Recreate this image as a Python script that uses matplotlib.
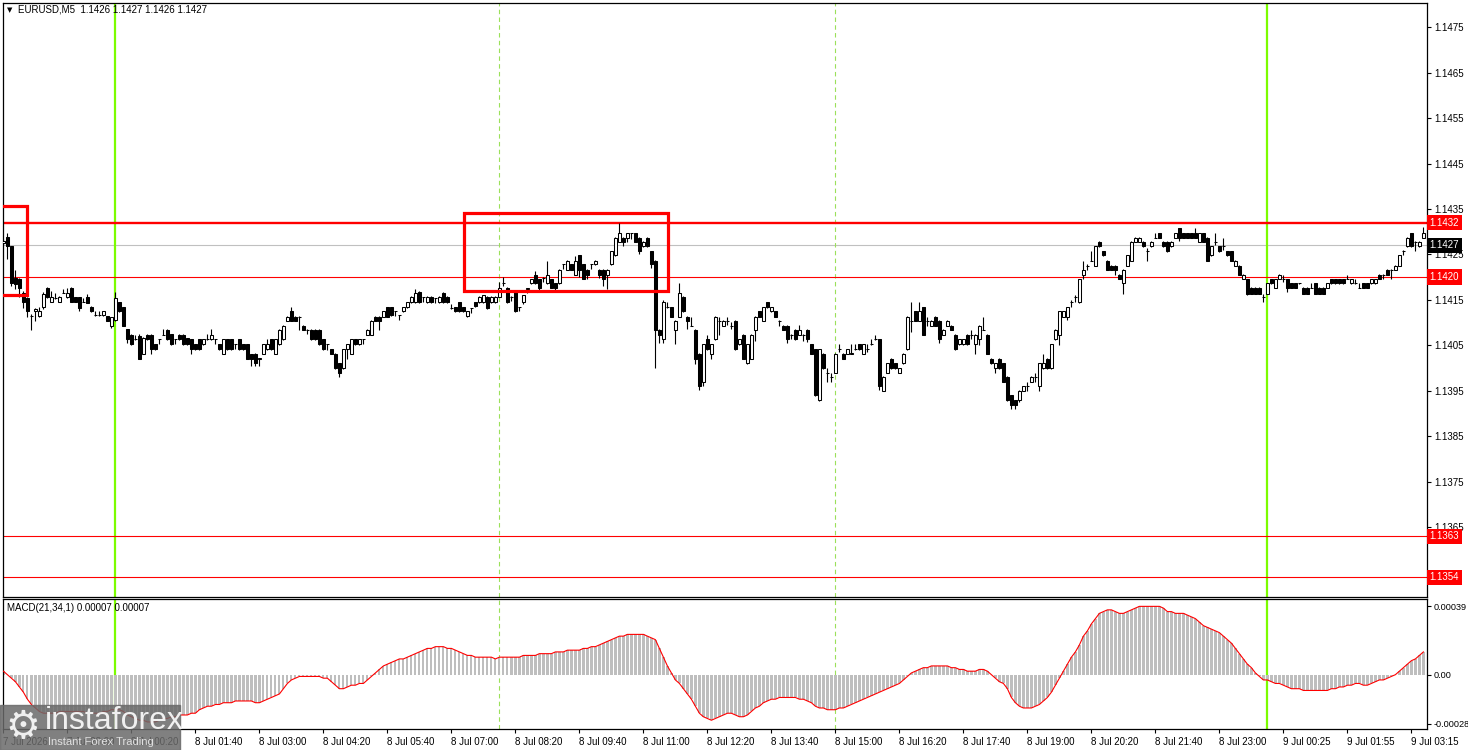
import numpy as np
import matplotlib.pyplot as plt
from matplotlib.patches import Rectangle
import matplotlib.transforms as mtransforms

# prices are written in pips above 1.1400
base = 1.1400
pip = 0.0001

open_pips = [
    27.5, 28.8, 26.8, 19.8, 19.6, 16.6, 15.5, 11.5, 12.5, 11.5, 13.4, 17.7, 14.6, 15.4, 14.6, 16.6,
    15.6, 17.7, 15.6, 15.6, 14.6, 15.7, 13.4, 11.6, 11.6, 11.6, 11.4, 9.3, 10.5, 14.5, 13.4, 8.6,
    7.3, 6.3, 7.1, 3.2, 7.3, 7.3, 5.2, 6.3, 7.3, 8.4, 7.5, 6.3, 7.3, 7.3, 6.6, 6.3,
    5.2, 6.3, 5.2, 6.3, 6.3, 6.3, 5.2, 3.2, 6.3, 6.3, 5.2, 6.3, 5.2, 5.2, 3.1, 3.2,
    2.1, 3.2, 4.1, 6.3, 3.2, 5.2, 6.3, 10.4, 12.5, 11.3, 11.3, 9.3, 8.4, 8.4, 8.4, 8.4,
    6.3, 5.2, 4.1, 3.2, 1.1, 0.0, 4.1, 3.2, 6.3, 5.2, 6.3, 7.3, 7.3, 11.3, 11.3, 11.3,
    13.4, 13.4, 12.5, 11.6, 12.5, 13.4, 14.5, 14.5, 16.8, 15.6, 14.5, 15.7, 15.4, 14.5, 16.6, 15.7,
    13.2, 13.4, 14.5, 13.4, 11.4, 13.2, 14.5, 14.5, 14.5, 15.7, 14.5, 14.5, 15.7, 18.7, 17.7, 15.7,
    16.8, 13.4, 14.5, 17.5, 18.7, 20.5, 19.6, 19.8, 18.7, 19.6, 18.7, 18.7, 22.8, 21.6, 22.8, 20.5,
    24.8, 22.8, 21.6, 22.8, 22.8, 21.6, 21.6, 20.5, 22.8, 24.8, 27.8, 28.7, 28.7, 29.7, 29.7, 28.7,
    26.8, 28.7, 25.7, 23.6, 8.4, 6.3, 13.4, 13.4, 8.4, 11.3, 15.7, 11.3, 9.3, 8.4, 3.2, -3.0,
    6.3, 3.2, 6.3, 10.4, 9.3, 10.4, 9.3, 10.4, 5.2, 7.3, 1.1, 2.1, 8.4, 12.5, 10.4, 14.5,
    12.5, 12.5, 10.4, 9.3, 9.3, 7.3, 8.4, 7.3, 7.3, 8.4, 5.2, 4.1, -7.1, 3.2, -1.0, -1.9,
    -1.0, 4.1, 3.2, 3.2, 3.2, 4.1, 5.2, 3.2, 4.1, 5.2, 6.3, 6.3, -5.0, -1.0, 2.1, 1.1,
    -1.0, 1.1, 4.1, 10.4, 12.5, 10.4, 13.4, 10.4, 9.3, 11.3, 10.4, 7.3, 9.3, 9.3, 7.3, 5.2,
    5.2, 7.3, 7.3, 5.2, 6.3, 8.4, 7.3, 2.1, 0.0, 2.1, 1.1, -1.9, -6.0, -7.1, -7.1, -5.0,
    -4.0, -3.0, -1.9, -4.0, 0.0, 2.1, 0.0, 6.3, 7.3, 11.3, 11.3, 14.5, 15.7, 14.5, 20.5, 22.5,
    23.6, 22.5, 27.8, 25.7, 23.6, 22.5, 22.5, 20.5, 18.7, 22.5, 23.6, 27.8, 27.8, 27.8, 25.7, 26.8,
    28.7, 29.7, 27.8, 27.8, 26.8, 28.7, 30.8, 29.7, 29.7, 29.7, 29.7, 27.8, 29.7, 28.7, 24.8, 27.8,
    26.8, 26.8, 25.7, 25.7, 22.5, 22.5, 19.6, 19.6, 17.7, 17.7, 17.7, 15.7, 16.4, 19.6, 17.7, 19.6,
    19.6, 19.6, 18.7, 18.7, 18.7, 17.7, 17.7, 17.7, 18.7, 17.7, 17.7, 17.7, 19.6, 19.6, 19.6, 19.6,
    19.6, 18.7, 18.7, 17.7, 18.7, 18.7, 18.7, 18.7, 20.5, 20.5, 21.6, 21.6, 21.6, 22.5, 25.7, 26.8,
    29.7, 27.8, 26.8, 28.7,
]

high_pips = [
    28.5, 29.8, 26.8, 21.6, 19.8, 17.0, 15.7, 11.8, 13.2, 13.4, 16.8, 17.8, 17.0, 16.5, 15.8, 17.5,
    17.6, 17.8, 15.7, 15.7, 15.5, 16.2, 13.6, 12.5, 12.5, 12.6, 11.5, 11.3, 16.8, 14.6, 13.5, 8.7,
    7.4, 7.3, 7.6, 6.8, 7.6, 7.4, 5.4, 6.4, 8.5, 8.5, 7.6, 6.4, 7.4, 7.4, 6.7, 6.4,
    5.3, 6.4, 6.4, 7.5, 8.7, 6.4, 5.3, 6.4, 6.4, 6.4, 5.3, 6.4, 5.3, 5.3, 3.2, 3.3,
    2.2, 5.3, 6.4, 6.4, 6.4, 8.5, 9.4, 11.4, 13.4, 11.4, 11.4, 9.4, 8.5, 8.5, 8.5, 8.5,
    6.4, 5.3, 4.2, 3.3, 1.2, 4.2, 5.3, 6.4, 6.4, 6.4, 6.4, 8.5, 10.5, 11.4, 11.4, 12.6,
    13.5, 13.5, 12.6, 11.7, 13.5, 14.6, 15.8, 17.5, 16.9, 15.7, 15.8, 15.8, 15.5, 15.8, 16.7, 15.8,
    14.0, 13.5, 14.6, 13.5, 12.6, 13.3, 14.6, 15.8, 16.1, 15.8, 15.8, 15.8, 19.0, 20.0, 17.8, 15.8,
    16.9, 13.5, 16.1, 17.6, 19.7, 21.3, 19.7, 20.0, 23.6, 19.7, 18.8, 21.7, 23.0, 23.7, 22.9, 24.6,
    24.9, 22.9, 21.7, 22.9, 23.7, 21.7, 21.7, 21.7, 25.8, 28.8, 32.0, 28.8, 29.8, 29.8, 29.8, 28.8,
    27.9, 28.8, 25.8, 23.7, 8.5, 15.0, 14.5, 13.5, 10.5, 18.7, 15.8, 11.4, 11.2, 8.5, 3.3, 5.3,
    7.3, 5.3, 11.4, 11.3, 10.5, 11.3, 10.2, 10.5, 6.4, 7.4, 5.3, 7.4, 11.4, 12.6, 13.5, 14.6,
    13.5, 12.6, 10.5, 9.4, 9.4, 7.4, 8.5, 9.4, 7.4, 8.5, 5.3, 4.2, 4.2, 3.3, 0.0, -1.0,
    3.3, 5.2, 3.3, 4.2, 5.2, 5.2, 5.3, 5.3, 5.2, 6.3, 7.3, 6.4, -1.8, 1.2, 2.2, 1.2,
    0.1, 3.3, 11.4, 14.5, 12.6, 14.5, 13.5, 11.3, 10.5, 11.4, 10.5, 8.5, 10.5, 9.4, 7.4, 6.4,
    6.4, 7.4, 8.4, 7.4, 9.4, 11.3, 7.4, 2.2, 1.2, 2.2, 1.2, -1.8, -5.9, -7.0, -4.9, -3.9,
    -3.0, -1.8, -1.0, 1.2, 3.0, 2.2, 5.3, 8.5, 12.6, 12.6, 13.5, 15.0, 16.0, 19.7, 23.6, 23.0,
    25.7, 26.9, 27.9, 25.8, 23.7, 22.6, 22.6, 20.6, 21.7, 24.9, 27.9, 28.8, 28.8, 27.9, 26.5, 27.9,
    29.7, 29.8, 27.9, 27.9, 27.9, 29.8, 30.9, 29.8, 29.8, 29.8, 30.8, 29.8, 29.8, 28.8, 26.9, 29.7,
    26.9, 28.7, 25.8, 25.8, 23.7, 22.6, 20.6, 19.7, 17.8, 17.8, 17.8, 16.4, 18.8, 19.7, 19.7, 20.6,
    20.5, 19.7, 18.8, 18.8, 18.8, 17.8, 17.8, 18.7, 18.8, 17.8, 17.8, 18.8, 19.7, 19.7, 19.7, 19.7,
    20.5, 19.7, 19.6, 18.7, 18.8, 18.8, 19.7, 19.7, 20.6, 20.6, 21.7, 21.7, 22.6, 24.9, 26.0, 28.8,
    29.8, 27.9, 27.9, 31.0,
]

low_pips = [
    27.0, 24.0, 18.0, 17.5, 15.7, 13.2, 11.2, 8.4, 10.4, 11.2, 13.0, 15.5, 14.5, 15.3, 14.5, 16.5,
    15.5, 14.5, 14.5, 12.5, 14.5, 14.3, 12.4, 11.5, 11.5, 11.5, 10.3, 8.8, 10.4, 12.4, 9.2, 5.6,
    5.0, 6.2, 2.0, 3.1, 6.2, 3.2, 4.0, 5.2, 7.2, 6.2, 5.1, 5.2, 6.2, 5.1, 5.1, 3.2,
    4.0, 4.0, 5.1, 6.2, 6.2, 5.2, 4.0, 3.1, 4.0, 4.0, 4.2, 4.0, 4.0, 2.0, 0.4, 0.4,
    0.4, 3.1, 4.0, 4.0, 3.1, 5.1, 6.2, 10.3, 10.3, 10.3, 8.4, 8.3, 7.4, 6.2, 6.2, 5.1,
    4.0, 4.0, 3.0, -0.1, -1.9, -0.1, 2.1, 3.1, 5.1, 5.1, 5.2, 7.2, 7.2, 10.3, 8.4, 11.2,
    11.2, 11.5, 11.5, 10.6, 12.4, 13.3, 14.4, 14.4, 14.4, 14.6, 14.4, 14.4, 14.4, 14.4, 14.4, 14.4,
    13.1, 12.4, 12.4, 12.4, 11.3, 12.2, 13.5, 14.4, 14.4, 13.1, 14.4, 14.4, 15.6, 18.0, 14.4, 14.8,
    12.4, 12.5, 14.0, 16.6, 18.6, 18.6, 17.0, 19.0, 18.6, 17.6, 17.0, 18.6, 21.8, 21.5, 21.5, 20.4,
    20.0, 19.5, 19.5, 21.8, 22.7, 19.8, 18.0, 17.5, 22.7, 24.7, 27.7, 26.8, 27.8, 28.5, 27.7, 25.2,
    26.7, 26.7, 22.0, 0.0, 5.6, 5.5, 13.3, 11.2, 5.2, 11.2, 12.4, 8.5, 9.2, 1.0, -4.8, -4.0,
    4.0, 2.0, 6.2, 7.3, 9.2, 9.5, 8.5, 4.0, 5.1, 2.0, 1.0, 2.0, 6.0, 11.2, 10.3, 13.3,
    12.4, 11.2, 9.3, 8.3, 5.6, 6.3, 6.2, 7.2, 6.0, 5.8, 3.1, -6.1, -7.2, -0.1, -3.0, -3.0,
    -1.1, 3.5, 2.0, 3.1, 3.1, 4.0, 4.0, 3.1, 3.5, 5.1, 6.2, -4.8, -5.0, -1.1, -0.1, -0.1,
    -1.1, 1.0, 4.0, 8.0, 10.3, 10.3, 7.2, 9.3, 9.2, 9.2, 5.5, 7.2, 9.2, 8.3, 4.0, 5.1,
    5.1, 5.1, 6.5, 3.0, 5.0, 8.3, 3.1, 1.0, -1.0, -0.1, -3.1, -7.2, -9.0, -9.0, -7.5, -5.1,
    -5.0, -3.1, -3.0, -5.0, -0.1, -0.1, -0.1, 6.2, 5.0, 11.2, 10.5, 13.4, 14.5, 14.4, 19.6, 21.5,
    23.5, 22.4, 26.7, 24.7, 21.5, 21.5, 20.5, 19.5, 16.4, 22.4, 23.5, 27.7, 27.7, 26.7, 23.6, 26.7,
    28.6, 28.6, 26.7, 25.6, 26.7, 28.6, 28.0, 28.6, 28.6, 28.6, 28.6, 27.7, 27.7, 23.5, 24.7, 27.0,
    25.6, 26.0, 24.7, 23.5, 22.4, 20.4, 19.5, 16.0, 16.3, 16.3, 16.3, 14.5, 16.3, 18.6, 17.6, 19.5,
    19.0, 16.8, 17.6, 17.6, 18.6, 16.3, 16.3, 17.6, 16.3, 16.3, 16.3, 17.6, 18.6, 18.6, 18.6, 18.6,
    19.5, 18.6, 18.6, 17.6, 17.6, 17.6, 18.6, 18.6, 19.5, 19.6, 20.4, 19.6, 21.5, 22.4, 24.8, 26.7,
    26.7, 25.7, 26.7, 28.6,
]

close_pips = [
    28.0, 26.8, 18.7, 18.4, 17.7, 14.5, 12.5, 11.5, 12.9, 12.5, 16.4, 15.7, 15.6, 15.4, 15.6, 16.6,
    16.6, 14.6, 14.6, 13.2, 14.6, 14.4, 12.5, 11.6, 11.6, 12.5, 10.4, 11.2, 15.4, 12.5, 9.3, 6.3,
    5.2, 6.3, 2.1, 6.7, 6.3, 4.1, 4.1, 6.3, 7.3, 6.3, 5.2, 6.3, 6.3, 5.2, 5.2, 4.1,
    4.1, 4.1, 6.3, 6.3, 7.3, 6.3, 4.1, 6.3, 4.1, 4.1, 5.2, 4.1, 4.1, 2.1, 2.0, 1.1,
    2.1, 5.2, 5.2, 4.1, 6.3, 8.4, 9.3, 11.3, 10.4, 10.4, 11.3, 8.4, 8.4, 6.3, 6.3, 5.2,
    4.1, 5.2, 3.2, 0.0, -1.0, 4.1, 5.2, 6.3, 5.2, 6.3, 6.3, 8.4, 10.4, 10.4, 10.4, 12.5,
    11.3, 11.6, 12.5, 11.6, 13.4, 14.5, 15.7, 16.6, 14.5, 15.6, 15.7, 14.5, 15.4, 15.7, 14.5, 14.5,
    13.2, 12.5, 12.5, 12.5, 12.5, 13.2, 13.6, 15.7, 16.0, 13.2, 15.7, 15.7, 17.7, 18.7, 14.5, 15.7,
    12.5, 13.4, 16.0, 17.5, 19.6, 18.7, 17.7, 19.8, 20.5, 17.7, 17.7, 21.6, 22.8, 23.6, 21.6, 23.6,
    21.6, 19.6, 20.5, 22.8, 23.6, 20.5, 19.6, 21.6, 25.7, 28.7, 29.7, 27.8, 29.7, 29.7, 27.8, 25.7,
    27.8, 26.8, 22.8, 8.4, 7.3, 14.5, 13.4, 11.3, 10.4, 16.6, 12.5, 10.4, 9.3, 2.1, -4.0, 5.2,
    4.1, 5.2, 11.3, 10.4, 10.4, 10.4, 9.3, 4.1, 6.3, 2.1, 5.2, 7.3, 11.3, 11.3, 13.4, 13.4,
    13.4, 11.3, 10.4, 8.4, 6.3, 7.3, 6.3, 8.4, 7.3, 6.3, 3.2, -6.0, 4.1, 0.0, -1.0, -1.9,
    3.2, 4.1, 2.1, 4.1, 3.2, 4.1, 4.1, 5.2, 4.1, 5.2, 6.3, -4.0, -1.9, 1.1, 0.0, 0.0,
    0.0, 3.2, 11.3, 10.4, 10.4, 12.5, 7.3, 10.4, 10.4, 9.3, 6.3, 8.4, 10.4, 8.4, 4.1, 6.3,
    6.3, 5.2, 7.3, 7.3, 9.3, 8.4, 3.2, 1.1, 1.1, 0.0, -3.0, -7.1, -8.2, -8.2, -5.0, -4.0,
    -4.0, -1.9, -1.9, 1.1, 1.1, 0.0, 5.2, 8.4, 12.5, 12.5, 13.4, 14.5, 15.7, 19.6, 21.6, 22.5,
    23.6, 26.8, 26.8, 24.8, 21.6, 21.6, 21.6, 19.6, 21.6, 24.8, 27.8, 28.7, 28.7, 26.8, 25.7, 27.8,
    28.7, 28.7, 26.8, 25.7, 27.8, 29.7, 28.7, 28.7, 28.7, 28.7, 28.7, 29.7, 27.8, 23.6, 26.8, 27.8,
    25.7, 26.8, 24.8, 23.6, 23.6, 20.5, 20.5, 16.4, 16.4, 16.4, 16.4, 15.7, 18.7, 18.7, 19.6, 20.5,
    19.6, 17.7, 17.7, 17.7, 18.7, 16.4, 16.4, 17.7, 16.4, 16.4, 16.4, 18.7, 18.7, 18.7, 18.7, 18.7,
    19.6, 19.6, 18.7, 17.7, 17.7, 17.7, 19.6, 19.6, 19.6, 20.5, 20.5, 21.6, 22.5, 24.8, 25.7, 28.7,
    26.8, 27.8, 27.8, 29.7,
]

# MACD(21,34,1) histogram, in units of 0.00001
macd_e5 = [
    2, 0, -2, -4, -7, -10, -14, -17, -19, -21, -22, -22, -22, -22, -21, -21,
    -21, -21, -21, -21, -21, -22, -22, -22, -22, -21, -21, -20, -20, -20, -21, -23,
    -24, -25, -26, -26, -27, -27, -27, -26, -25, -25, -24, -24, -23, -23, -23, -22,
    -22, -20, -19, -18, -18, -17, -17, -16, -16, -16, -15, -15, -15, -15, -15, -16,
    -16, -15, -14, -13, -12, -11, -8, -5, -3, -2, -1, -1, -1, -1, -1, -1,
    -2, -2, -4, -6, -8, -8, -7, -6, -6, -5, -5, -3, -1, 1, 3, 5,
    6, 7, 8, 9, 9, 10, 11, 12, 13, 14, 15, 15, 16, 16, 16, 15,
    15, 14, 13, 12, 11, 11, 10, 10, 10, 10, 10, 9, 10, 10, 10, 10,
    10, 10, 11, 11, 11, 11, 12, 12, 12, 12, 13, 13, 13, 14, 14, 14,
    14, 15, 15, 16, 16, 17, 18, 19, 20, 21, 22, 22, 23, 23, 23, 23,
    23, 22, 21, 20, 15, 10, 5, 1, -3, -5, -8, -11, -14, -18, -22, -24,
    -25, -26, -25, -24, -23, -22, -22, -23, -24, -24, -23, -21, -19, -18, -16, -15,
    -14, -14, -13, -13, -13, -13, -13, -14, -14, -15, -16, -18, -19, -19, -20, -20,
    -20, -19, -19, -18, -17, -16, -15, -14, -13, -12, -11, -10, -9, -8, -7, -6,
    -5, -3, -1, 1, 2, 3, 4, 4, 5, 5, 5, 5, 5, 4, 4, 3,
    3, 2, 2, 2, 3, 3, 2, 0, -2, -4, -5, -8, -13, -16, -18, -19,
    -19, -19, -18, -17, -15, -13, -10, -6, -2, 2, 6, 10, 13, 17, 22, 25,
    29, 32, 35, 36, 37, 37, 36, 35, 35, 36, 37, 38, 39, 39, 39, 39,
    39, 39, 38, 36, 36, 35, 35, 35, 34, 33, 32, 30, 28, 27, 26, 25,
    24, 22, 20, 18, 15, 12, 9, 6, 4, 1, -1, -3, -3, -4, -5, -5,
    -6, -7, -8, -8, -8, -9, -9, -9, -9, -9, -9, -9, -8, -8, -7, -7,
    -6, -6, -5, -5, -6, -6, -5, -4, -3, -3, -2, -1, 0, 2, 4, 6,
    8, 9, 11, 13,
]

time_labels = ["7 Jul 2026", "7 Jul 23:00", "8 Jul 00:20", "8 Jul 01:40", "8 Jul 03:00",
               "8 Jul 04:20", "8 Jul 05:40", "8 Jul 07:00", "8 Jul 08:20", "8 Jul 09:40",
               "8 Jul 11:00", "8 Jul 12:20", "8 Jul 13:40", "8 Jul 15:00", "8 Jul 16:20",
               "8 Jul 17:40", "8 Jul 19:00", "8 Jul 20:20", "8 Jul 21:40", "8 Jul 23:00",
               "9 Jul 00:25", "9 Jul 01:55", "9 Jul 03:15"]
label_bars = [0, 16, 32, 48, 64, 80, 96, 112, 128, 144, 160, 176, 192, 208, 224, 240,
              256, 272, 288, 304, 320, 336, 352]

price_ticks = [1.1365, 1.1375, 1.1385, 1.1395, 1.1405, 1.1415, 1.1425, 1.1435,
               1.1445, 1.1455, 1.1465, 1.1475]
red_levels = [1.1432, 1.1420, 1.1363, 1.1354]
bid = 1.1427
day_lines = [28, 316]        # solid green, midnight
session_lines = [124, 208]   # dashed green
# rectangles: bar from, bar to, price low, price high
boxes = [(-5, 6.0, 1.14160, 1.14357), (115.1, 166.2, 1.14170, 1.14341)]

o = base + np.array(open_pips) * pip
h = base + np.array(high_pips) * pip
l = base + np.array(low_pips) * pip
c = base + np.array(close_pips) * pip
macd = np.array(macd_e5) * 1e-5
idx = np.arange(len(c))

plt.rcParams['font.family'] = ['Liberation Sans', 'DejaVu Sans']

W, H = 1468, 750
fig = plt.figure(figsize=(W / 100, H / 100), dpi=100)

def fx(px):
    return px / W

def fy(py):
    return 1 - py / H

ax = fig.add_axes([fx(3), fy(597), fx(1427) - fx(3), fy(3) - fy(597)])
axm = fig.add_axes([fx(3), fy(729), fx(1427) - fx(3), fy(599) - fy(729)])

lime = '#7cfc00'
fs = 7

# candles
ax.vlines(idx, l, h, color='black', lw=0.8, zorder=3)
up = c >= o
body_lo = np.minimum(o, c)
body_h = np.maximum(np.abs(c - o), 0.000002)
ax.bar(idx, body_h, bottom=body_lo, width=0.74, color=np.where(up, 'white', 'black'),
       edgecolor='black', linewidth=0.75, zorder=4)

# levels
ax.axhline(red_levels[0], color='red', lw=1.7, zorder=2)
for lv in red_levels[1:]:
    ax.axhline(lv, color='red', lw=0.8, zorder=2)
ax.axhline(bid, color='#c0c0c0', lw=0.8, zorder=1)

for b in day_lines:
    for a in (ax, axm):
        a.axvline(b, color=lime, lw=1.6, zorder=1)
for b in session_lines:
    for a in (ax, axm):
        a.axvline(b, color='#9be05a', lw=0.8, ls=(0, (4, 3)), zorder=1)

for x0, x1, y0, y1 in boxes:
    ax.add_patch(Rectangle((x0, y0), x1 - x0, y1 - y0, fill=False, edgecolor='red',
                           lw=2.3, zorder=5, clip_on=True))

ax.set_xlim(-0.1, 355.9)
ax.set_ylim(1.134967, 1.14803)
ax.set_xticks([])
ax.yaxis.tick_right()
ax.set_yticks(price_ticks)
ax.set_yticklabels([f"{t:.4f}" for t in price_ticks])
ax.tick_params(axis='y', length=3, width=0.8, pad=2, labelsize=fs, direction='out')

# right-side price tags
tr = mtransforms.blended_transform_factory(ax.transAxes, ax.transData)
for lv in red_levels:
    ax.text(1.0016, lv, f"{lv:.4f}", transform=tr, color='white', fontsize=fs, va='center',
            ha='left', zorder=10, clip_on=False,
            bbox=dict(boxstyle='square,pad=0.28', fc='red', ec='none'))
ax.text(1.0016, bid, f"{bid:.4f}", transform=tr, color='white', fontsize=fs, va='center',
        ha='left', zorder=10, clip_on=False,
        bbox=dict(boxstyle='square,pad=0.28', fc='black', ec='none'))

# MACD
axm.bar(idx, macd, width=0.55, color='#bebebe', zorder=2)
axm.plot(idx, macd, color='red', lw=0.8, zorder=3)
axm.set_xlim(-0.1, 355.9)
axm.set_ylim(-0.00031, 0.000432)
axm.yaxis.tick_right()
axm.set_yticks([0.00039, 0.0, -0.00028])
axm.set_yticklabels(['0.00039', '0.00', '-0.00028'])
axm.tick_params(axis='y', length=3, width=0.8, pad=1.5, labelsize=6.6)
axm.set_xticks(label_bars)
axm.set_xticklabels(time_labels)
axm.tick_params(axis='x', length=3, width=0.8, pad=3, labelsize=fs)
for lab in axm.get_xticklabels():
    lab.set_ha('left')

for a in (ax, axm):
    for s in a.spines.values():
        s.set_linewidth(0.9)

# header texts
fig.text(fx(7), fy(10), "\u25bc", fontsize=5, va='center', ha='left', family='DejaVu Sans')
fig.text(fx(18), fy(10), "EURUSD,M5  1.1426 1.1427 1.1426 1.1427", fontsize=fs,
         va='center', ha='left')
fig.text(fx(7), fy(608), "MACD(21,34,1) 0.00007 0.00007", fontsize=fs, va='center', ha='left')

# watermark
fig.add_artist(Rectangle((0, fy(750)), fx(180), fy(705) - fy(750), transform=fig.transFigure,
                         color='#6a6a6a', alpha=0.85, zorder=20))
fig.text(fx(5), fy(727), "\u2699", fontsize=28, color='#f0f0f0', va='center', ha='left',
         zorder=21, family='DejaVu Sans')
fig.text(fx(45), fy(721), "instaforex", fontsize=23, color='#f0f0f0', va='center', ha='left',
         zorder=21)
fig.text(fx(48), fy(742), "Instant Forex Trading", fontsize=8, color='#e0e0e0', va='center',
         ha='left', zorder=21)

fig.savefig('out.png', dpi=100)
